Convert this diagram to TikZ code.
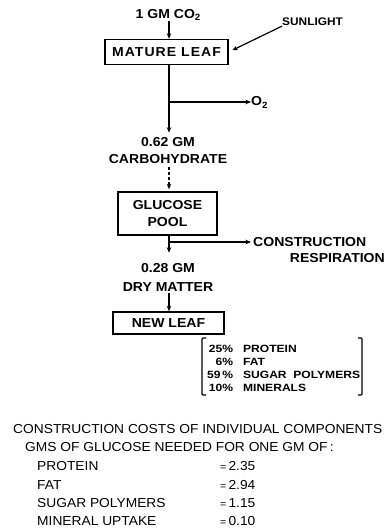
\documentclass[tikz,border=0pt]{standalone}
\usepackage{fontspec}
\setmainfont{Liberation Sans}
\newfontfamily\labfont[FakeStretch=1.08]{Liberation Sans}
\newfontfamily\matfont[FakeStretch=1.08,LetterSpace=8]{Liberation Sans}
\newfontfamily\brfont[FakeStretch=1.15]{Liberation Sans}
\newfontfamily\botfont[FakeStretch=1.06]{Liberation Sans}
\usetikzlibrary{arrows.meta,calc}
\newcommand{\subtwo}{\raisebox{-2.5pt}{\fontsize{9}{9}\selectfont 2}}
\newcommand{\smeq}{{\fontsize{10}{10}\selectfont =}\,}
\begin{document}
\begin{tikzpicture}[x=1pt,y=-1pt,
  lab/.style={font=\labfont\bfseries\fontsize{13}{17}\selectfont, inner sep=0pt, align=center},
  box/.style={draw, line width=1.4pt, inner sep=0pt, align=center,
    font=\labfont\bfseries\fontsize{13}{17}\selectfont},
  arr/.style={line width=1.2pt, -{Stealth[length=5.5pt,width=4.5pt]}},
  brk/.style={line width=1.2pt, rounded corners=1pt},
  bot/.style={font=\botfont\fontsize{13}{18}\selectfont, inner sep=0pt, anchor=west},
]
\useasboundingbox (0,0) rectangle (387,528);
\coordinate (spine) at (169,0);

% top
\node[lab] (co2) at (168,15) {1 GM CO\subtwo};
\node[box, minimum width=123pt, minimum height=25pt, font=\matfont\bfseries\fontsize{13}{17}\selectfont] (mature) at (166.5,52) {MATURE LEAF};
\node[lab, anchor=west, font=\labfont\bfseries\fontsize{11}{13}\selectfont] (sun) at (282,22) {SUNLIGHT};
\draw[arr] (co2.south -| spine) -- (mature.north -| spine);
\draw[arr, shorten >=4pt] (sun.south west) -- (mature.east);

% carbohydrate
\node[lab] (carb) at (168,151) {0.62 GM\\CARBOHYDRATE};
\coordinate (b1) at (169,102);
\node[lab, anchor=west] (o2) at (251,102) {O\raisebox{-3pt}{\fontsize{9}{9}\selectfont 2}};
\draw[arr, shorten >=5pt] (mature.south -| spine) -- (carb.north -| spine);
\draw[arr] (b1) -- (b1 -| o2.west);

% glucose pool
\node[box, minimum width=99pt, minimum height=43pt] (gluc) at (167.5,213.5) {GLUCOSE\\POOL};
\draw[arr, dash pattern=on 3pt off 2pt, shorten <=3pt, shorten >=2pt] (carb.south -| spine) -- (gluc.north -| spine);

% dry matter
\node[lab, font=\labfont\bfseries\fontsize{13}{19}\selectfont] (dry) at (168,277) {0.28 GM\\DRY MATTER};
\coordinate (b2) at (169,242);
\node[lab, anchor=west] (cons) at (253,242) {CONSTRUCTION};
\node[lab, anchor=east] (resp) at (385,258) {RESPIRATION};
\draw[arr, shorten >=10pt] (gluc.south -| spine) -- (dry.north -| spine);
\draw[arr, shorten >=2pt] (b2) -- (b2 -| cons.west);

% new leaf
\node[box, minimum width=111pt, minimum height=22pt] (newleaf) at (168.5,323) {NEW LEAF};
\draw[arr, shorten <=2pt] (dry.south -| spine) -- (newleaf.north -| spine);

% composition
\node[anchor=north west, inner sep=0pt, font=\brfont\bfseries\fontsize{10.5}{13}\selectfont] (comp) at (207,343)
  {\begin{tabular}{@{}r@{\hspace{10pt}}l@{}}
   25\% & PROTEIN\\
   6\% & FAT\\
   59\,\% & SUGAR\ \ POLYMERS\\
   10\% & MINERALS
  \end{tabular}};
\draw[brk] (206,338) -- (202,338) -- (202,395) -- (206,395);
\draw[brk] (358,338) -- (362,338) -- (362,395) -- (358,395);

% bottom table
\node[bot] (title) at (13,429) {CONSTRUCTION COSTS OF INDIVIDUAL COMPONENTS};
\node[bot] (sub) at (25,447) {GMS OF GLUCOSE NEEDED FOR ONE GM OF\,:};
\node[bot] (p1) at (37,466) {PROTEIN};
\node[bot] (p2) at (37,485) {FAT};
\node[bot] (p3) at (37,503) {SUGAR POLYMERS};
\node[bot] (p4) at (37,521) {MINERAL UPTAKE};
\node[bot] (v1) at (220,466) {\smeq 2.35};
\node[bot] (v2) at (220,485) {\smeq 2.94};
\node[bot] (v3) at (220,503) {\smeq 1.15};
\node[bot] (v4) at (220,521) {\smeq 0.10};
\end{tikzpicture}
\end{document}
